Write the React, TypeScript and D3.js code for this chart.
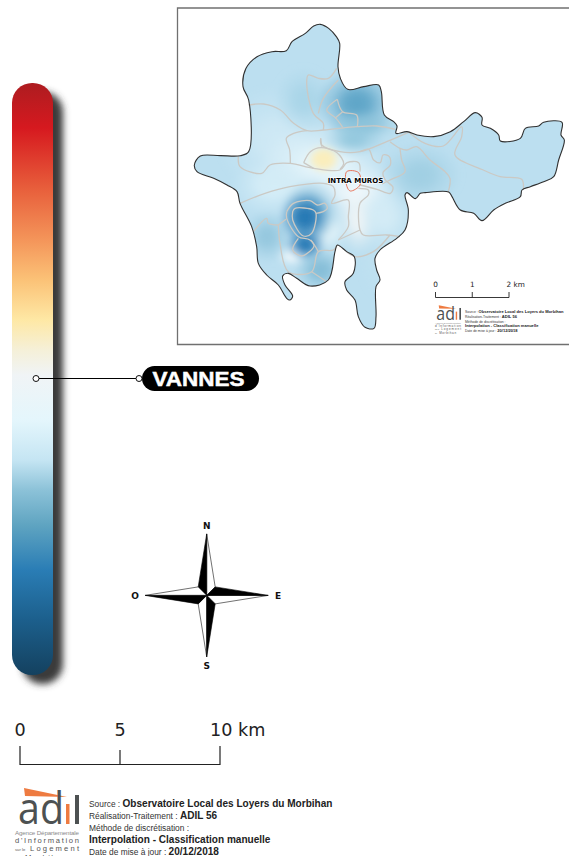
import React from "react";
import * as d3 from "d3";

type P = [number, number];

// Map geometry in map units (0..1176 x 0..1050)
const communeOutline: P[] = [
  [430,73],[455,85],[478,110],[488,130],[483,200],[490,235],[512,268],[560,260],[605,255],[613,275],[622,345],[650,365],[660,378],[657,400],
  [690,395],[720,405],[770,410],[820,395],[860,365],[895,338],[915,352],[915,375],[940,385],[965,405],[970,423],[1030,415],[1045,385],[1085,378],[1100,367],[1155,367],[1152,405],[1162,420],[1145,480],[1130,530],[1100,545],[1060,560],[1035,570],[1030,590],[985,610],[950,630],[915,662],[890,640],[850,630],[825,590],[815,576],[745,578],[730,580],[715,596],[690,578],
  [684,585],[694,630],[684,690],[659,715],[609,750],[594,775],[599,810],[609,840],[597,860],[597,950],[591,985],[564,982],[544,950],[534,900],[509,870],[504,845],[529,820],[532,770],[509,755],[481,735],[474,755],[454,840],[399,858],[359,835],[334,820],[317,828],[324,855],[347,888],[339,900],[329,895],[304,855],[269,825],[244,790],[239,740],[224,680],[189,610],
  [180,575],[150,555],[110,535],[60,515],[52,495],[70,468],[130,467],[190,467],[215,455],[215,300],[198,260],[207,205],[240,170],[285,155],[328,152],[345,125],[385,100],[410,78],
];

const roads: P[][] = [
  [[215,315],[260,312],[310,330],[350,370],[390,392],[440,390],[540,380],[600,378],[655,388]],
  [[479,205],[454,235],[424,235],[394,225],[389,250],[409,340],[439,370],[439,390]],
  [[484,240],[439,295],[424,340]],
  [[481,298],[449,330],[477,355],[497,382]],
  [[481,298],[497,335],[539,345],[541,380]],
  [[497,335],[474,355]],
  [[390,392],[350,400],[328,415],[338,450],[340,490]],
  [[184,470],[189,500],[254,520],[279,495],[339,490],[409,505],[489,510],[510,488],[545,488],[549,515]],
  [[380,488],[400,455],[432,443],[480,458],[500,490],[489,508]],
  [[380,488],[410,505]],
  [[431,415],[434,440]],
  [[431,415],[434,435],[489,455],[549,455],[629,425],[694,397]],
  [[639,425],[669,445],[689,450],[719,440],[759,480],[804,515],[819,535],[814,575]],
  [[669,445],[674,480],[684,515],[639,540],[615,552]],
  [[694,395],[744,430],[799,438],[854,380],[854,410],[834,465],[919,510],[969,530],[1034,538],[1039,570]],
  [[549,455],[575,448],[590,480],[610,488],[618,465],[637,470],[640,495],[618,518],[625,540],[648,562],[640,580],[600,568],[549,555]],
  [[189,610],[264,580],[339,560],[439,550],[469,560],[474,585],[464,610],[514,600],[514,650],[514,680],[484,720]],
  [[544,565],[574,570],[574,585],[549,610],[549,690],[559,705],[629,705],[669,710]],
  [[549,690],[484,720]],
  [[639,705],[589,755],[535,770],[509,755]],
  [[329,635],[349,610],[399,602],[421,615],[444,610],[451,625],[439,635],[417,640]],
  [[347,635],[354,625],[409,630],[417,640],[404,700],[379,708],[347,660],[347,635]],
  [[329,635],[329,655],[364,710],[399,720],[424,755]],
  [[364,715],[347,750],[374,768],[411,738],[401,720]],
  [[304,675],[327,658]],
  [[304,675],[309,730],[334,815],[404,815],[424,755],[469,750],[481,735]],
  [[404,815],[449,845]],
  [[229,695],[269,655],[274,670],[304,675]],
];

const intraMuros: P[] = [[509,515],[545,518],[549,555],[520,573],[510,560]];

const heatCx = [300,290,640,380,440,540,545,620,450,300,540,560,530,730,400,270,430,385,345,385];
const heatCy = [420,560,790,300,490,575,660,650,690,540,310,375,420,525,640,710,810,652,768,735];
const heatRx = [180,130,90,90,190,140,60,100,70,90,125,110,95,125,90,75,80,80,45,62];
const heatRy = [160,90,120,100,115,95,100,100,70,50,105,45,50,100,100,80,70,85,32,48];
const heatFill = ["#cfe9f5","#d6eef8","#c2e2f1","#a9d5e8","#e8f6fb","#eef7fb","#f4f6f6","#d4ecf6","#e6f5fa","#d3ecf6","#5ca4c7","#8cc3da","#93c8de","#a0cfe3","#7db8d6","#94c7de","#84bdd7","#2276b3","#f6fbfd","#2276b3"];
const yellowBlob = { cx: 440, cy: 478, rx: 50, ry: 42, fill: "#fbeebb" };

const barPositions = [83,128,190,240,280,320,350,375,420,460,490,525,570,620,675];
const barColors = ["#ad1c20","#d6191f","#e8603c","#f4955a","#fbc277","#fee8a5","#f5f0d8","#f0f4f6","#e4f6fc","#c5e5f3","#8cc2d8","#5fa4c1","#2a7db5","#1c5f8c","#14415f"];

const bigScaleTicks = [0,5,10];
const smallScaleTicks = [0,1,2];

const sourceLines: [string,string][] = [
  ["Source : ","Observatoire Local des Loyers du Morbihan"],
  ["Réalisation-Traitement :  ","ADIL 56"],
  ["Méthode de discrétisation :",""],
  ["","Interpolation - Classification manuelle"],
  ["Date de mise à jour : ","20/12/2018"],
];

const cardinals = [
  { label: "N", dx: 0, dy: -1 },
  { label: "E", dx: 1, dy: 0 },
  { label: "S", dx: 0, dy: 1 },
  { label: "O", dx: -1, dy: 0 },
];

const mx = d3.scaleLinear().domain([0,1176]).range([177,569]);
const my = d3.scaleLinear().domain([0,1050]).range([0,350]);
const smooth = d3.line<P>().x(d=>mx(d[0])).y(d=>my(d[1])).curve(d3.curveCatmullRom.alpha(0.5));
const closed = d3.line<P>().x(d=>mx(d[0])).y(d=>my(d[1])).curve(d3.curveCatmullRomClosed.alpha(0.5));
const outlinePath = closed(communeOutline)!;
const imPath = closed(intraMuros)!;

const barY = d3.scaleLinear().domain([83,675]).range([0,100]);
const bigX = d3.scaleLinear().domain([0,10]).range([20,220]);
const smallX = d3.scaleLinear().domain([0,2]).range([435.5,509]);

const SANS = "'Liberation Sans', Arial, sans-serif";
const DEJA = "'DejaVu Sans', sans-serif";

function Logo() {
  return (
    <g>
      <polygon points="24,788 67,797 25,796" fill="#ee7b41" />
      <text x="18" y="824" fontFamily={"'Open Sans', sans-serif"} fontSize="44" fill="#4d5152" fontWeight={400} textLength={46} lengthAdjust="spacingAndGlyphs">ad</text>
      <rect x="66" y="804" width="3.5" height="20" fill="#ee7b41" />
      <rect x="75" y="795" width="4" height="29" fill="#4d5152" />
      <text x="15" y="834.5" fontFamily={SANS} fontSize="6.2" fill="#8a8a8a" textLength={64}>Agence Départementale</text>
      <text x="15" y="843" fontFamily={SANS} fontSize="7.6" fill="#555" textLength={64}>d'Information</text>
      <text x="15" y="850.5" fontFamily={SANS} fontSize="4.2" fill="#555">sur le</text>
      <text x="30" y="850.5" fontFamily={SANS} fontSize="7.6" fill="#555" textLength={49}>Logement</text>
      <text x="15" y="859.5" fontFamily={SANS} fontSize="4.2" fill="#555">du</text>
      <text x="25" y="859.5" fontFamily={SANS} fontSize="7.6" fill="#555" textLength={42}>Morbihan</text>
      {sourceLines.map((l,i)=>(
        <text key={i} x="89" y={807+i*12} fontFamily={SANS} fontSize="9" fill="#222">
          <tspan fill="#333" fontSize="8.4">{l[0]}</tspan>
          <tspan fontWeight="bold" fontSize="10.05" fill="#222">{l[1]}</tspan>
        </text>
      ))}
    </g>
  );
}

export default function App() {
  const c: P = [206.7,595.4];
  const tip = 61.5, inner = 8.5;
  return (
    <svg width={569} height={856} viewBox="0 0 569 856" style={{position:"absolute",left:0,top:0,display:"block",background:"#fff"}}>
      <defs>
        <clipPath id="commune"><path d={outlinePath}/></clipPath>
        <filter id="shadow" x="-60%" y="-10%" width="220%" height="120%"><feGaussianBlur stdDeviation="3.8"/></filter>
        <filter id="soft" x="-20%" y="-20%" width="140%" height="140%"><feGaussianBlur stdDeviation="3"/></filter>
        <linearGradient id="barGrad" x1="0" y1="0" x2="0" y2="1">
          {barPositions.map((p,i)=><stop key={i} offset={`${barY(p)}%`} stopColor={barColors[i]}/>)}
        </linearGradient>
        {heatFill.map((f,i)=>(
          <radialGradient key={i} id={`h${i}`}>
            <stop offset="0%" stopColor={f} stopOpacity="1"/>
            <stop offset="30%" stopColor={f} stopOpacity="0.88"/>
            <stop offset="60%" stopColor={f} stopOpacity="0.42"/>
            <stop offset="100%" stopColor={f} stopOpacity="0"/>
          </radialGradient>
        ))}
        <radialGradient id="hy">
          <stop offset="0%" stopColor={yellowBlob.fill}/>
          <stop offset="55%" stopColor={yellowBlob.fill} stopOpacity="0.95"/>
          <stop offset="100%" stopColor={yellowBlob.fill} stopOpacity="0"/>
        </radialGradient>
      </defs>

      {/* map frame */}
      <path d="M569,8 H177.5 V344.5 H569" fill="none" stroke="#707070" strokeWidth="1.3"/>

      {/* interpolated surface */}
      <g clipPath="url(#commune)">
        <rect x="177" y="8" width="392" height="336" fill="#bcdff0"/>
        <g filter="url(#soft)">
          {heatFill.map((_,i)=>(
            <ellipse key={i} cx={mx(heatCx[i])} cy={my(heatCy[i])} rx={mx(heatRx[i])-mx(0)} ry={my(heatRy[i])} fill={`url(#h${i})`}/>
          ))}
          <ellipse cx={mx(yellowBlob.cx)} cy={my(yellowBlob.cy)} rx={mx(yellowBlob.rx)-mx(0)} ry={my(yellowBlob.ry)} fill="url(#hy)"/>
        </g>
      </g>

      {roads.map((r,i)=><path key={i} d={smooth(r)!} fill="none" stroke="#cbc9c4" strokeWidth="1.3" strokeLinejoin="round"/>)}
      <path d={imPath} fill="none" stroke="#e8664a" strokeWidth="0.9"/>
      <path d={outlinePath} fill="none" stroke="#303030" strokeWidth="1.1"/>

      <text x="355.5" y="183.3" textAnchor="middle" fontFamily={DEJA} fontWeight="bold" fontSize="7" fill="#000" stroke="#fff" strokeWidth="1.6" paintOrder="stroke" strokeOpacity="0.7">INTRA MUROS</text>

      {/* small scale */}
      <g>
        <path d={`M${smallX(0)},292 V297.5 H${smallX(2)} V292 M${smallX(1)},292 V297.5`} fill="none" stroke="#222" strokeWidth="0.9"/>
        {smallScaleTicks.map(t=>(
          <text key={t} x={smallX(t)} y="287" textAnchor={t===2?"start":"middle"} dx={t===2?-2.5:0} fontFamily={DEJA} fontSize="7.3" fill="#222">{t===2?"2 km":t}</text>
        ))}
      </g>
      <g transform="translate(429,-14) scale(0.405)"><Logo/></g>

      {/* colour bar */}
      <rect x="22" y="92" width="41" height="592" rx="20" fill="#3a3a3a" filter="url(#shadow)"/>
      <rect x="12" y="83" width="41" height="592" rx="20" fill="url(#barGrad)"/>

      {/* callout */}
      <line x1="36" y1="378.5" x2="139" y2="378.5" stroke="#000" strokeWidth="1"/>
      <circle cx="36" cy="378.5" r="3" fill="#fff" stroke="#111" strokeWidth="1"/>
      <rect x="142" y="366" width="117" height="25" rx="12.5" fill="#000"/>
      <circle cx="139" cy="378.5" r="3" fill="#fff" stroke="#111" strokeWidth="1"/>
      <text x="198.5" y="385.5" textAnchor="middle" fontFamily={SANS} fontWeight="bold" fontSize="20" fill="#fff" stroke="#fff" strokeWidth="0.5" textLength={92} lengthAdjust="spacingAndGlyphs">VANNES</text>

      {/* compass */}
      <g>
        {cardinals.map((d,i)=>{
          const tx = c[0]+d.dx*tip, ty = c[1]+d.dy*tip;
          const sx = d.dx - d.dy, sy = d.dy + d.dx;
          const ax = d.dx + d.dy, ay = d.dy - d.dx;
          const cw: P = [c[0]+sx*inner, c[1]+sy*inner];
          const acw: P = [c[0]+ax*inner, c[1]+ay*inner];
          return (
            <g key={i}>
              <polygon points={`${tx},${ty} ${cw[0]},${cw[1]} ${c[0]},${c[1]}`} fill="#fff" stroke="#111" strokeWidth="0.6"/>
              <polygon points={`${tx},${ty} ${acw[0]},${acw[1]} ${c[0]},${c[1]}`} fill="#000" stroke="#000" strokeWidth="0.6"/>
            </g>
          );
        })}
        {cardinals.map((d,i)=>(
          <text key={i} x={c[0]+d.dx*71.5} y={c[1]+d.dy*70+3.3} textAnchor="middle" fontFamily={DEJA} fontWeight="bold" fontSize="9" fill="#111">{d.label}</text>
        ))}
      </g>

      {/* big scale */}
      <g>
        <path d={`M${bigX(0)},746 V764.5 H${bigX(10)} V746 M${bigX(5)},750 V764.5`} fill="none" stroke="#222" strokeWidth="1.2"/>
        {bigScaleTicks.map(t=>(
          <text key={t} x={bigX(t)} y="736" textAnchor={t===10?"start":"middle"} dx={t===10?-10:0} fontFamily={DEJA} fontSize="17.6" fill="#222">{t===10?"10 km":t}</text>
        ))}
      </g>

      <Logo/>
    </svg>
  );
}
